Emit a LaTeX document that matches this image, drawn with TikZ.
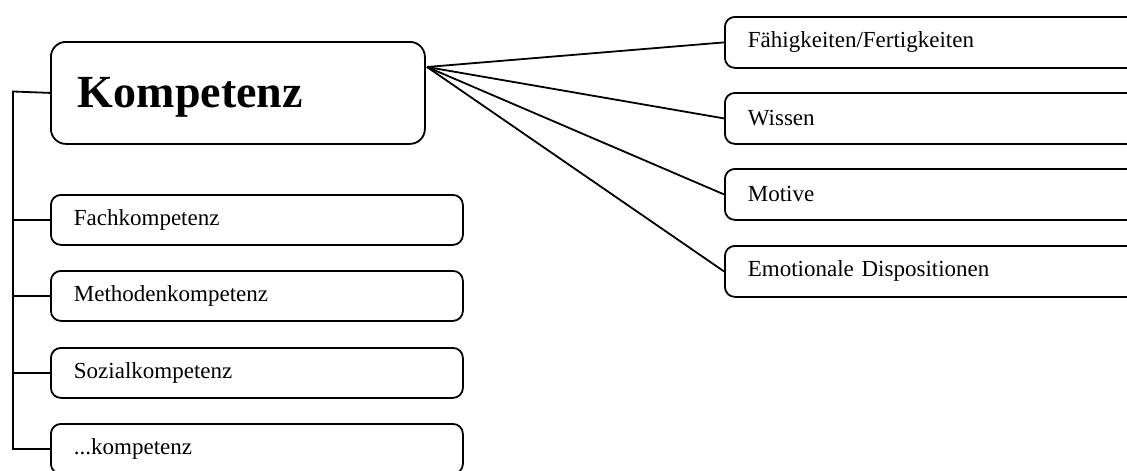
\documentclass[tikz,border=0pt]{standalone}
\usepackage{fontspec}
\setmainfont{Liberation Serif}
\begin{document}
\begin{tikzpicture}[x=1pt,y=-1pt,
  box/.style={draw, line width=1.8pt, rounded corners=10pt, anchor=north west,
    inner xsep=23pt, inner ysep=0pt, align=left, font=\fontsize{23}{25}\selectfont},
  leftbox/.style={box, minimum height=50pt, text width=366pt},
  rightbox/.style={box, minimum height=51pt, text width=404pt},
  mainbox/.style={draw, line width=1.8pt, rounded corners=15pt, anchor=north west,
    minimum height=102pt, inner xsep=27pt, inner ysep=0pt, text width=320pt, align=left,
    text height=30pt, text depth=0pt,
    font=\fontsize{46}{50}\selectfont\bfseries},
  conn/.style={line width=1.8pt}]
\useasboundingbox (0,0) rectangle (1127,471);
\clip (0,0) rectangle (1127,471);
\node[mainbox] (komp) at (50,41) {Kompetenz};
\node[leftbox] (fach) at (50,194) {Fachkompetenz};
\node[leftbox] (meth) at (50,270) {Methodenkompetenz};
\node[leftbox] (sozi) at (50,347) {Sozialkompetenz};
\node[leftbox] (etc) at (50,423) {...kompetenz};
\node[rightbox] (faeh) at (724,16) {Fähigkeiten/Fertigkeiten};
\node[rightbox] (wiss) at (724,92) {Wissen};
\node[rightbox] (moti) at (724,168) {Motive};
\node[rightbox] (emot) at (724,245) {Emotionale Dispositionen};
\coordinate (trunk) at (13,91.5);
\coordinate (hub) at (427,67);
\draw[conn] (komp.west) -- (trunk) |- (etc.west);
\draw[conn] (trunk) |- (fach.west);
\draw[conn] (trunk) |- (meth.west);
\draw[conn] (trunk) |- (sozi.west);
\draw[conn] (hub) -- (faeh.west);
\draw[conn] (hub) -- (wiss.west);
\draw[conn] (hub) -- (moti.west);
\draw[conn] (hub) -- (emot.west);
\end{tikzpicture}
\end{document}
